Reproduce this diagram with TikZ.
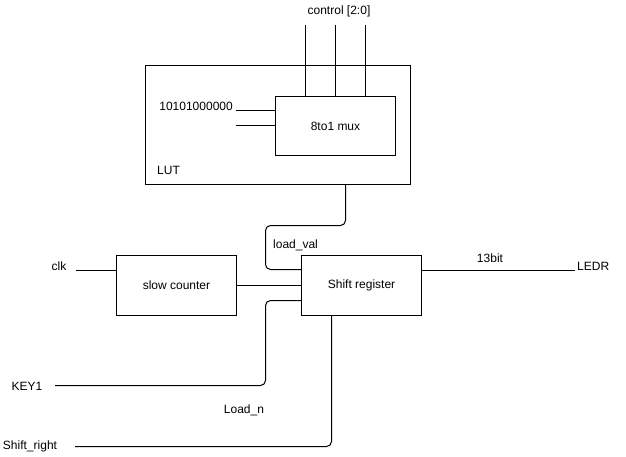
\documentclass[tikz,border=0pt]{standalone}
\usepackage{fontspec}
\setmainfont{Liberation Sans}
\begin{document}
\begin{tikzpicture}[x=1pt,y=-1pt,
  block/.style={draw, line width=1pt, rectangle, inner sep=0pt},
  wire/.style={draw, line width=1pt, rounded corners=5pt},
  lbl/.style={inner sep=0pt, font=\fontsize{12}{14}\selectfont}]
\useasboundingbox (0,0) rectangle (626,456);

% LUT with the multiplexer inside
\node[block, minimum width=265pt, minimum height=119pt] (lut) at (278,125) {};
\node[lbl, anchor=west] (lutname) at (157,170) {LUT};
\node[block, minimum width=120pt, minimum height=59pt, lbl] (mux) at (335.5,126) {8to1 mux};

% select lines
\node[lbl] (ctrl) at (339,11) {control [2:0]};
\coordinate (c1) at (305.5,25);
\coordinate (c2) at (335.5,25);
\coordinate (c3) at (365.5,25);
\foreach \c in {c1,c2,c3} \draw[wire] (\c) -- (\c |- mux.north);

% data inputs
\node[lbl, anchor=east] (pattern) at (233,106) {10101000000};
\coordinate (d1) at (235.5,110.5);
\coordinate (d2) at (235.5,125.5);
\draw[wire] (d1) -- (d1 -| mux.west);
\draw[wire] (d2) -- (d2 -| mux.west);

% lower blocks
\node[block, minimum width=120pt, minimum height=60pt, lbl] (counter) at (176.5,285.5) {slow counter};
\node[block, minimum width=120pt, minimum height=60pt, lbl] (shreg) at (361.5,285.5) {Shift register};

% load value from the LUT
\coordinate (lv) at (345.5,184.5);
\draw[wire] (lut.south -| lv) -- (345.5,225.5) -- (265.5,225.5) -- (265.5,269.5) -- (shreg.west |- 0,269.5);
\node[lbl, anchor=west] (lvname) at (273,245) {load\_val};

% clock path
\node[lbl] (clk) at (59,266) {clk};
\coordinate (clkin) at (76,270.5);
\draw[wire] (clkin) -- (clkin -| counter.west);
\draw[wire] (counter.east |- 0,285.5) -- (shreg.west |- 0,285.5);

% output
\coordinate (ledr) at (575,270.5);
\draw[wire] (shreg.east |- ledr) -- (ledr);
\node[lbl] (bits) at (490,258) {13bit};
\node[lbl, anchor=west] (ledrname) at (577,266) {LEDR};

% load control
\node[lbl] (key) at (27,386) {KEY1};
\coordinate (keyin) at (55,385.5);
\draw[wire] (keyin) -- (265.5,385.5) -- (265.5,300.5) -- (shreg.west |- 0,300.5);
\node[lbl] (loadn) at (244,410) {Load\_n};

% shift control
\node[lbl] (shr) at (30,446) {Shift\_right};
\coordinate (shrin) at (75,446.5);
\coordinate (shrtop) at (331.5,315);
\draw[wire] (shrin) -- (331.5,446.5) -- (shrtop |- shreg.south);
\end{tikzpicture}
\end{document}
